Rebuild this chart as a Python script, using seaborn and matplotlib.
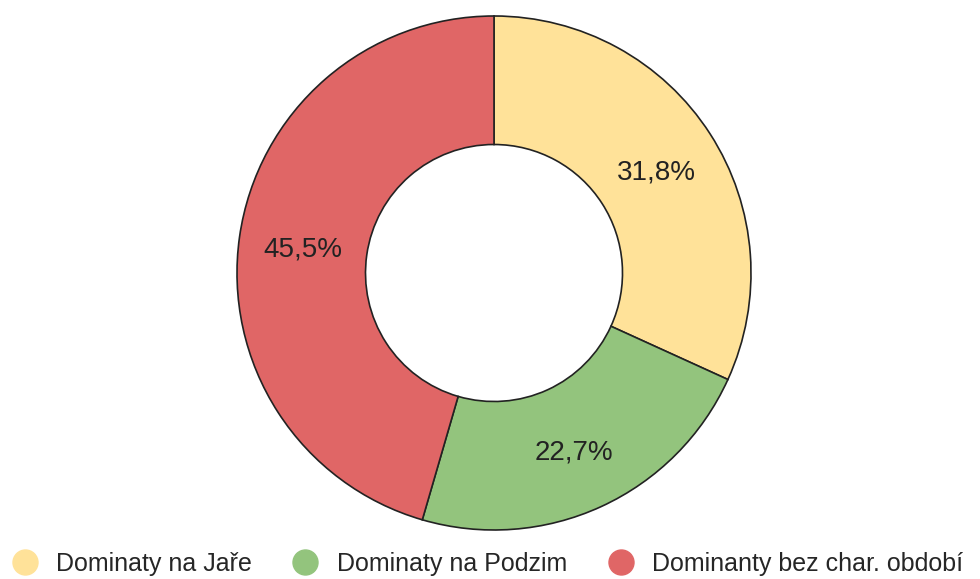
import matplotlib
matplotlib.use("Agg")
import matplotlib.pyplot as plt
import matplotlib.transforms as mtransforms
from matplotlib.lines import Line2D
import seaborn as sns

categories = ["Dominaty na Jaře", "Dominaty na Podzim", "Dominanty bez char. období"]
values = [31.8, 22.7, 45.5]
colors = ["#FFE299", "#93C47D", "#E06666"]

sns.set_theme(style="white")
plt.rcParams['font.family'] = ['Liberation Sans', 'DejaVu Sans']

fig = plt.figure(figsize=(9.8, 5.79), dpi=100)
cx, cy, r = 494, 579 - 273, 257
ax = fig.add_axes([(cx - r) / 980, (cy - r) / 579, 2 * r / 980, 2 * r / 579])

wedges, texts, autotexts = ax.pie(
    values, colors=colors, startangle=90, counterclock=False,
    autopct=lambda p: f"{p:.1f}%".replace(".", ","), pctdistance=0.75,
    wedgeprops=dict(width=0.5, edgecolor="#222222", linewidth=1.2),
    textprops=dict(fontsize=20, color="#222222"), radius=1.0)
for t in autotexts:
    t.set_transform(mtransforms.offset_copy(t.get_transform(), fig=fig, x=0, y=-4, units="dots"))
ax.set_xlim(-1.0, 1.0)
ax.set_ylim(-1.0, 1.0)
ax.set_aspect("equal")
ax.axis("off")

handles = [Line2D([0], [0], marker="o", linestyle="", markersize=18,
                  markerfacecolor=c, markeredgecolor=c) for c in colors]
fig.legend(handles, categories, loc="center left", bbox_to_anchor=(12 / 980, 1 - 564 / 579),
           ncol=3, frameon=False, fontsize=18, handletextpad=0.75, columnspacing=1.65,
           handlelength=1.0, borderaxespad=0, borderpad=0)

fig.savefig("out.png", dpi=100)
